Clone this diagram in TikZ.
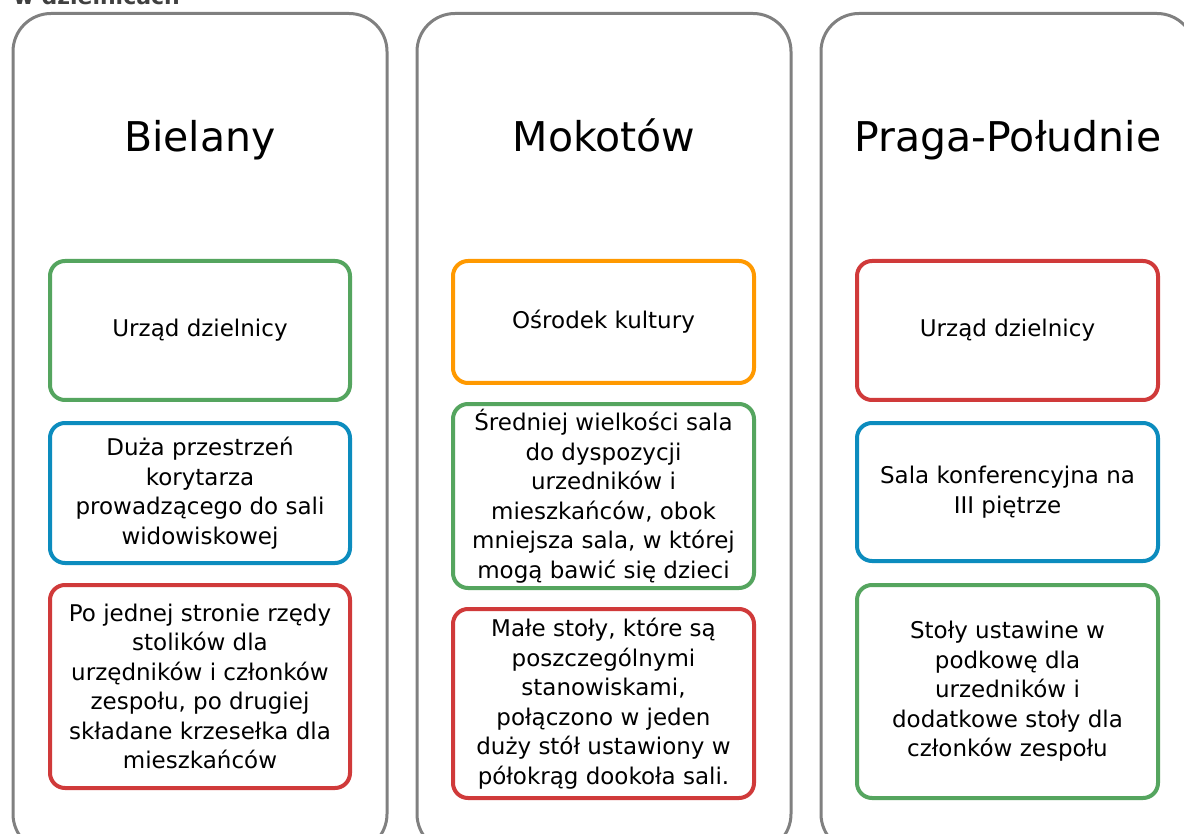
\documentclass[tikz,border=0pt]{standalone}
\usepackage{fontspec}
\setmainfont{DejaVu Sans}
\definecolor{panelgray}{RGB}{128,128,128}
\definecolor{bgreen}{RGB}{85,165,95}
\definecolor{bblue}{RGB}{12,140,190}
\definecolor{bred}{RGB}{208,58,58}
\definecolor{borange}{RGB}{255,153,0}
\tikzset{
  panel/.style={draw=panelgray, line width=3pt, rounded corners=38pt},
  title/.style={font=\fontsize{41}{49}\selectfont, anchor=base, text=black},
  infobox/.style={draw=#1, line width=4pt, rounded corners=15pt, fill=white,
    align=center, inner sep=0pt, text=black,
    font=\fontsize{23}{29.5}\selectfont},
  head/.style={font=\bfseries\fontsize{22}{26}\selectfont, anchor=base west, text={rgb,255:red,64;green,64;blue,64}}
}
\begin{document}
\begin{tikzpicture}[x=1pt,y=-1pt]
\useasboundingbox (0,0) rectangle (1184,834);
\clip (0,0) rectangle (1184,834);
\fill[white] (0,0) rectangle (1184,834);
\node[head] (hd) at (10,5) {w dzielnicach};
% panels
\draw[panel] (13,13.5) rectangle (387,852);
\draw[panel] (417,13.5) rectangle (791,852);
\draw[panel] (821,13.5) rectangle (1195,852);
% titles
\node[title] (t1) at (200,152) {Bielany};
\node[title] (t2) at (604,152) {Mokotów};
\node[title] (t3) at (1008,152) {Praga-Południe};
% column 1
\node[infobox=bgreen, minimum width=300pt, minimum height=139pt] (a1) at (200,330.5) {Urząd dzielnicy};
\node[infobox=bblue, minimum width=300pt, minimum height=140pt] (a2) at (200,493) {Duża przestrzeń\\korytarza\\prowadzącego do sali\\widowiskowej};
\node[infobox=bred, minimum width=300pt, minimum height=203pt] (a3) at (200,686.5) {Po jednej stronie rzędy\\stolików dla\\urzędników i członków\\zespołu, po drugiej\\składane krzesełka dla\\mieszkańców};
% column 2
\node[infobox=borange, minimum width=301pt, minimum height=122pt] (b1) at (603.5,322) {Ośrodek kultury};
\node[infobox=bgreen, minimum width=301pt, minimum height=184pt] (b2) at (603.5,496) {Średniej wielkości sala\\do dyspozycji\\urzedników i\\mieszkańców, obok\\mniejsza sala, w której\\mogą bawić się dzieci};
\node[infobox=bred, minimum width=301pt, minimum height=189pt] (b3) at (603.5,703.5) {Małe stoły, które są\\poszczególnymi\\stanowiskami,\\połączono w jeden\\duży stół ustawiony w\\półokrąg dookoła sali.};
% column 3
\node[infobox=bred, minimum width=301pt, minimum height=139pt] (c1) at (1007.5,330.5) {Urząd dzielnicy};
\node[infobox=bblue, minimum width=301pt, minimum height=138pt] (c2) at (1007.5,492) {Sala konferencyjna na\\III piętrze};
\node[infobox=bgreen, minimum width=301pt, minimum height=213pt] (c3) at (1007.5,691.5) {Stoły ustawine w\\podkowę dla\\urzedników i\\dodatkowe stoły dla\\członków zespołu};
\end{tikzpicture}
\end{document}
